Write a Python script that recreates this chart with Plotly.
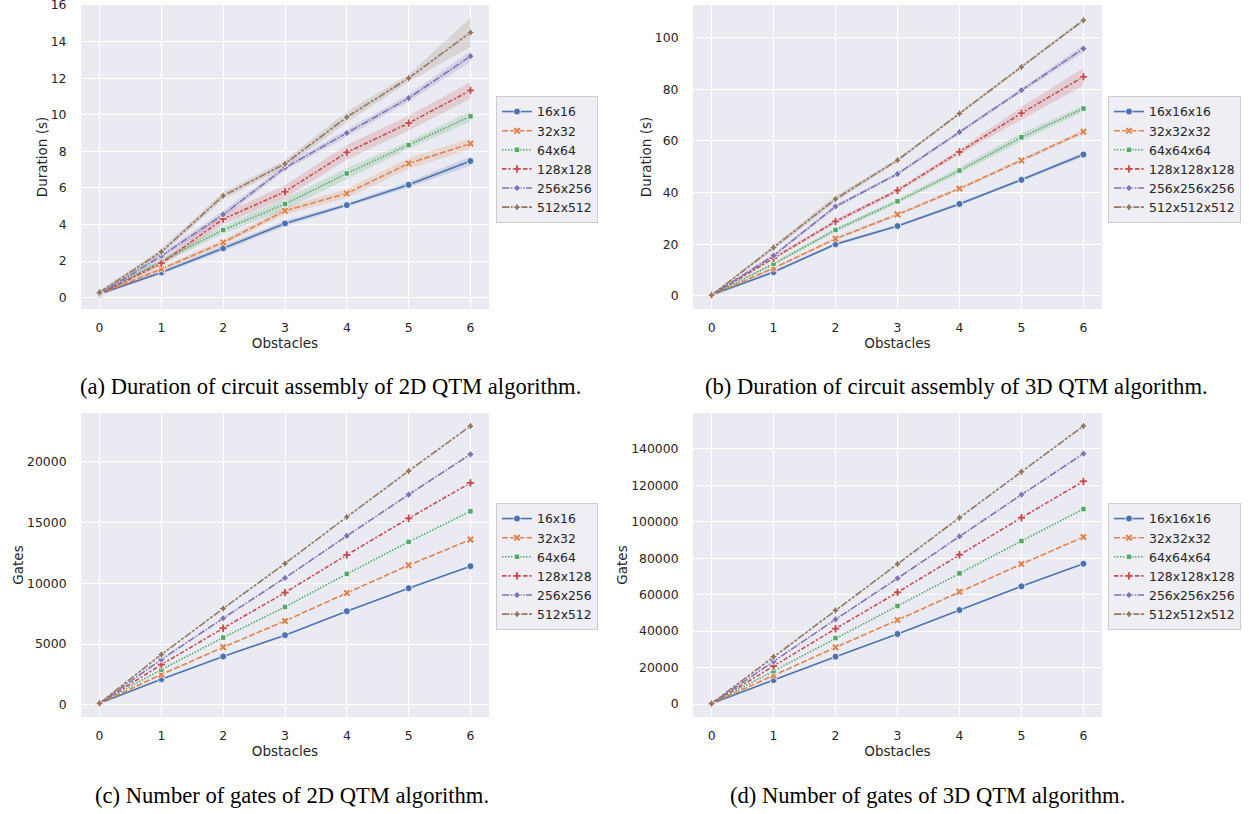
import plotly.graph_objects as go

obstacles = [0, 1, 2, 3, 4, 5, 6]
labels_2d = ["16x16", "32x32", "64x64", "128x128", "256x256", "512x512"]
labels_3d = ["16x16x16", "32x32x32", "64x64x64", "128x128x128", "256x256x256", "512x512x512"]

# (a) duration 2D (s) and CI half-widths
dur2d_16 = [0.20, 1.38, 2.70, 4.06, 5.06, 6.17, 7.47]
dur2d_32 = [0.20, 1.57, 3.02, 4.75, 5.70, 7.34, 8.42]
dur2d_64 = [0.20, 2.00, 3.70, 5.12, 6.79, 8.34, 9.91]
dur2d_128 = [0.20, 1.88, 4.30, 5.79, 7.94, 9.54, 11.33]
dur2d_256 = [0.20, 2.28, 4.55, 7.10, 9.00, 10.91, 13.20]
dur2d_512 = [0.29, 2.51, 5.57, 7.32, 9.87, 12.00, 14.50]
ci2d_16 = [0.05, 0.10, 0.15, 0.15, 0.10, 0.15, 0.25]
ci2d_32 = [0.05, 0.10, 0.15, 0.20, 0.25, 0.30, 0.30]
ci2d_64 = [0.05, 0.15, 0.20, 0.30, 0.30, 0.20, 0.28]
ci2d_128 = [0.05, 0.15, 0.30, 0.35, 0.40, 0.40, 0.45]
ci2d_256 = [0.05, 0.15, 0.20, 0.15, 0.20, 0.20, 0.30]
ci2d_512 = [0.10, 0.15, 0.20, 0.20, 0.30, 0.20, 0.80]

# (b) duration 3D (s)
dur3d_16 = [0.3, 9.2, 20.0, 27.0, 35.6, 44.9, 54.7]
dur3d_32 = [0.3, 10.7, 22.1, 31.5, 41.5, 52.4, 63.5]
dur3d_64 = [0.3, 12.4, 25.5, 36.6, 48.5, 61.4, 72.5]
dur3d_128 = [0.3, 14.6, 28.8, 40.8, 55.7, 70.7, 84.8]
dur3d_256 = [0.3, 15.6, 34.6, 47.2, 63.4, 79.6, 95.7]
dur3d_512 = [0.3, 18.7, 37.5, 52.5, 70.6, 88.6, 106.7]
ci3d_16 = [0.1, 0.5, 0.6, 0.5, 0.6, 0.6, 0.9]
ci3d_32 = [0.1, 0.5, 0.6, 0.6, 0.6, 0.7, 0.8]
ci3d_64 = [0.1, 0.6, 0.8, 0.8, 1.2, 1.5, 1.2]
ci3d_128 = [0.1, 0.6, 0.8, 0.8, 1.0, 2.5, 3.4]
ci3d_256 = [0.1, 0.6, 0.8, 0.6, 0.6, 0.8, 1.5]
ci3d_512 = [0.1, 1.0, 1.2, 0.6, 0.5, 0.5, 0.6]

# (c) gates 2D
gates2d_16 = [130, 2110, 3970, 5730, 7700, 9590, 11400]
gates2d_32 = [130, 2490, 4740, 6900, 9200, 11480, 13590]
gates2d_64 = [130, 2900, 5530, 8050, 10770, 13400, 15920]
gates2d_128 = [130, 3310, 6300, 9230, 12330, 15340, 18250]
gates2d_256 = [130, 3730, 7120, 10440, 13890, 17290, 20600]
gates2d_512 = [130, 4140, 7920, 11620, 15450, 19230, 22930]

# (d) gates 3D
gates3d_16 = [300, 13160, 25960, 38390, 51550, 64530, 76960]
gates3d_32 = [300, 15720, 31080, 46070, 61610, 76780, 91590]
gates3d_64 = [300, 18100, 36200, 53750, 71660, 89400, 106950]
gates3d_128 = [300, 20840, 41310, 61240, 81900, 102190, 122120]
gates3d_256 = [300, 23400, 46430, 68920, 91950, 114810, 137300]
gates3d_512 = [300, 25960, 51370, 76780, 102190, 127420, 152470]

colors = ["#4c72b0", "#dd8452", "#55a868", "#c44e52", "#8172b3", "#937860"]
fills = ["rgba(76,114,176,0.2)", "rgba(221,132,82,0.2)", "rgba(85,168,104,0.2)",
         "rgba(196,78,82,0.2)", "rgba(129,114,179,0.2)", "rgba(147,120,96,0.2)"]
dashes = ["solid", "6px,2.2px", "1.5px,1.5px", "4.5px,1.9px,2.2px,1.9px",
          "7.5px,1.5px,1.5px,1.5px", "7.5px,1.5px,3px,1.5px,3px,1.5px"]
symbols = ["circle", "x", "square", "cross", "diamond", "star-diamond"]
msizes = [7, 7, 5.5, 7, 5.5, 6.5]

panels = [
    dict(xa="x", ya="y", legend="legend", labels=labels_2d,
         ys=[dur2d_16, dur2d_32, dur2d_64, dur2d_128, dur2d_256, dur2d_512],
         cis=[ci2d_16, ci2d_32, ci2d_64, ci2d_128, ci2d_256, ci2d_512]),
    dict(xa="x2", ya="y2", legend="legend2", labels=labels_3d,
         ys=[dur3d_16, dur3d_32, dur3d_64, dur3d_128, dur3d_256, dur3d_512],
         cis=[ci3d_16, ci3d_32, ci3d_64, ci3d_128, ci3d_256, ci3d_512]),
    dict(xa="x3", ya="y3", legend="legend3", labels=labels_2d,
         ys=[gates2d_16, gates2d_32, gates2d_64, gates2d_128, gates2d_256, gates2d_512],
         cis=None),
    dict(xa="x4", ya="y4", legend="legend4", labels=labels_3d,
         ys=[gates3d_16, gates3d_32, gates3d_64, gates3d_128, gates3d_256, gates3d_512],
         cis=None),
]

fig = go.Figure()
for p in panels:
    if p["cis"] is not None:
        for i, (ys, ci) in enumerate(zip(p["ys"], p["cis"])):
            up = [a + b for a, b in zip(ys, ci)]
            lo = [a - b for a, b in zip(ys, ci)]
            fig.add_trace(go.Scatter(
                x=obstacles + obstacles[::-1], y=up + lo[::-1],
                fill="toself", fillcolor=fills[i], line=dict(width=0),
                mode="lines", showlegend=False, hoverinfo="skip",
                xaxis=p["xa"], yaxis=p["ya"]))
    for i, ys in enumerate(p["ys"]):
        fig.add_trace(go.Scatter(
            x=obstacles, y=ys, name=p["labels"][i], mode="lines+markers",
            line=dict(color=colors[i], width=1.6, dash=dashes[i]),
            marker=dict(symbol=symbols[i], size=msizes[i], color=colors[i],
                        line=dict(color="white", width=0.8)),
            xaxis=p["xa"], yaxis=p["ya"], legend=p["legend"]))

W, H = 1249, 814
def px_x(v):
    return v / W
def px_y(v):
    return 1 - v / H

xl = [px_x(81), px_x(489)]
xr = [px_x(693), px_x(1102)]
yt = [px_y(309), px_y(5)]
yb = [px_y(717), px_y(413)]

TF = 12.4
axis_common = dict(showgrid=True, gridcolor="white", gridwidth=1.1, zeroline=False,
                   showline=False, ticks="outside", tickcolor="rgba(0,0,0,0)",
                   automargin=False, tickformat="d", ticklabeloverflow="allow",
                   tickfont=dict(size=TF, color="#262626"))
xcommon = dict(axis_common, range=[-0.3, 6.3], tickvals=obstacles, ticklen=7,
               title=dict(text="Obstacles", font=dict(size=13.5, color="#262626"), standoff=3))

fig.update_layout(
    width=W, height=H, margin=dict(l=0, r=0, t=0, b=0),
    paper_bgcolor="white", plot_bgcolor="#eaeaf2",
    font=dict(family="DejaVu Sans", color="#262626"),
    xaxis=dict(xcommon, domain=xl, anchor="y"),
    xaxis2=dict(xcommon, domain=xr, anchor="y2"),
    xaxis3=dict(xcommon, domain=xl, anchor="y3"),
    xaxis4=dict(xcommon, domain=xr, anchor="y4"),
    yaxis=dict(axis_common, domain=yt, anchor="x", range=[-0.62, 16.0],
               tickvals=list(range(0, 17, 2)), ticklen=11,
               title=dict(text="Duration (s)", font=dict(size=13.5), standoff=0)),
    yaxis2=dict(axis_common, domain=yt, anchor="x2", range=[-5.1, 112.6],
                tickvals=list(range(0, 101, 20)), ticklen=11,
                title=dict(text="Duration (s)", font=dict(size=13.5), standoff=0)),
    yaxis3=dict(axis_common, domain=yb, anchor="x3", range=[-1000, 24000],
                tickvals=list(range(0, 20001, 5000)), ticklen=11,
                title=dict(text="Gates", font=dict(size=13.5), standoff=0)),
    yaxis4=dict(axis_common, domain=yb, anchor="x4", range=[-7100, 159600],
                tickvals=list(range(0, 140001, 20000)), ticklen=11,
                title=dict(text="Gates", font=dict(size=13.5), standoff=0)),
    showlegend=True,
)

leg_common = dict(bgcolor="#eeeef4", bordercolor="#cccccc", borderwidth=1,
                  font=dict(size=12.4, color="#262626"), xanchor="left", yanchor="top",
                  tracegroupgap=0, itemwidth=30)
fig.update_layout(
    legend=dict(leg_common, x=px_x(496), y=px_y(96)),
    legend2=dict(leg_common, x=px_x(1108), y=px_y(96)),
    legend3=dict(leg_common, x=px_x(496), y=px_y(503)),
    legend4=dict(leg_common, x=px_x(1108), y=px_y(503)),
)

captions = [
    ("(a) Duration of circuit assembly of 2D QTM algorithm.", 330, 386),
    ("(b) Duration of circuit assembly of 3D QTM algorithm.", 956, 386),
    ("(c) Number of gates of 2D QTM algorithm.", 292, 795),
    ("(d) Number of gates of 3D QTM algorithm.", 927, 795),
]
for text, cx, cy in captions:
    fig.add_annotation(text=text, x=px_x(cx), y=px_y(cy), xref="paper", yref="paper",
                       showarrow=False, xanchor="center", yanchor="middle",
                       font=dict(family="Liberation Serif", size=22.6, color="black"))

fig.write_html("out.html", config={"displayModeBar": False},
               post_script="document.body.style.margin='0';document.body.style.overflow='hidden';")
